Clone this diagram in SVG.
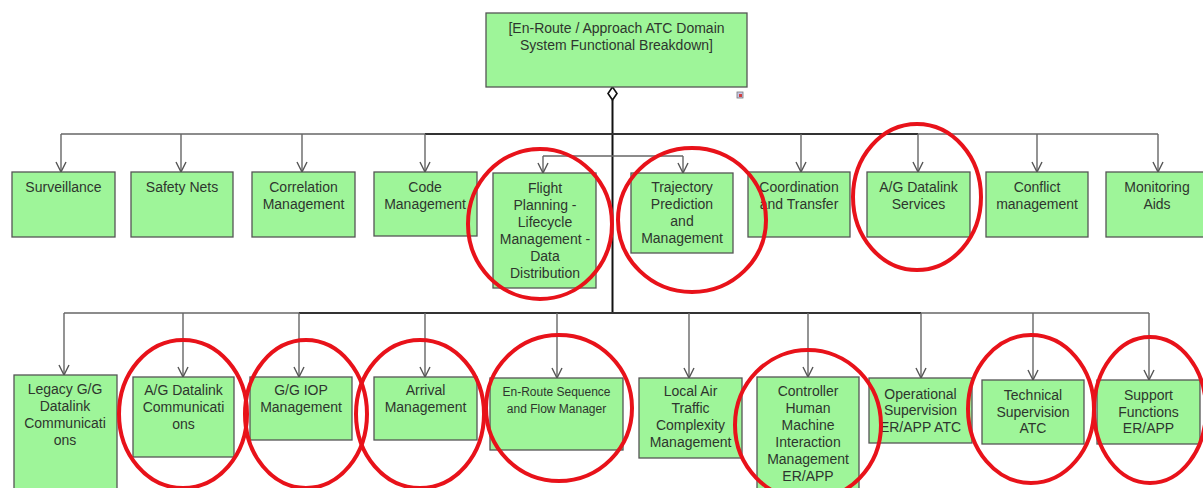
<svg xmlns="http://www.w3.org/2000/svg" width="1203" height="488" viewBox="0 0 1203 488">
<defs>
<marker id="arr" viewBox="0 0 12 12" refX="11" refY="6" markerWidth="12" markerHeight="12" markerUnits="userSpaceOnUse" orient="auto">
<path d="M1,1 L11,6 L1,11" fill="none" stroke="#555" stroke-width="1.4"/>
</marker>
<style>
.box{fill:#9ef599;stroke:#555;stroke-width:1.3}
.t{font-family:"Liberation Sans",Arial,sans-serif;font-size:14px;fill:#2e352e;text-anchor:middle}
.s{font-size:12px}
.c{fill:none;stroke:#666;stroke-width:1.4}
.d{fill:none;stroke:#333;stroke-width:1.8}
.a{fill:none;stroke:#666;stroke-width:1.4;marker-end:url(#arr)}
.m{fill:none;stroke:#111;stroke-width:2}
.hl{fill:none;stroke:#e8121a;stroke-width:4}
</style>
</defs>
<rect width="1203" height="488" fill="#fff"/>

<g id="connectors">
<line class="m" x1="612.5" y1="100" x2="612.5" y2="313"/>
<polygon points="612.5,87 617,93.5 612.5,100 608,93.5" fill="#fff" stroke="#111" stroke-width="1.6"/>
<line class="c" x1="61" y1="134" x2="1158" y2="134"/>
<line class="d" x1="425" y1="134" x2="918" y2="134"/>
<line class="c" x1="543" y1="156" x2="683" y2="156"/>
<path class="a" d="M61,134 V172"/>
<path class="a" d="M181,134 V172"/>
<path class="a" d="M302,134 V172"/>
<path class="a" d="M425,134 V172"/>
<path class="a" d="M543,156 V173"/>
<path class="a" d="M683,156 V173"/>
<path class="a" d="M801,134 V172"/>
<path class="a" d="M918,134 V172"/>
<path class="a" d="M1037,134 V172"/>
<path class="a" d="M1158,134 V172"/>
<line class="c" x1="64" y1="313" x2="1149" y2="313"/>
<line class="d" x1="299" y1="313" x2="921" y2="313"/>
<path class="a" d="M64,313 V375"/>
<path class="a" d="M183,313 V377"/>
<path class="a" d="M299,313 V377"/>
<path class="a" d="M425,313 V377"/>
<path class="a" d="M557,313 V378"/>
<path class="a" d="M689,313 V378"/>
<path class="a" d="M808,313 V377"/>
<path class="a" d="M921,313 V378"/>
<path class="a" d="M1033,313 V380"/>
<path class="a" d="M1149,313 V380"/>
</g>

<g id="root">
<rect class="box" x="486" y="13" width="261" height="74"/>
<text class="t" x="616.5" y="33">[En-Route / Approach ATC Domain</text>
<text class="t" x="616.5" y="50">System Functional Breakdown]</text>
<rect x="737" y="92" width="6" height="6" fill="#c8c8e8" stroke="#777" stroke-width="0.8"/>
<rect x="739" y="94" width="3" height="3" fill="#d04040"/>
</g>

<g id="n-surveillance"><rect class="box" x="12" y="172" width="103" height="65"/><text class="t" x="63.5" y="192">Surveillance</text></g>
<g id="n-safety"><rect class="box" x="131" y="172" width="102" height="65"/><text class="t" x="182" y="192">Safety Nets</text></g>
<g id="n-correlation"><rect class="box" x="252" y="172" width="103" height="65"/><text class="t" x="303.5" y="192">Correlation</text><text class="t" x="303.5" y="209">Management</text></g>
<g id="n-code"><rect class="box" x="374" y="172" width="103" height="64"/><text class="t" x="425" y="192">Code</text><text class="t" x="425" y="209">Management</text></g>
<g id="n-flight"><rect class="box" x="493" y="173" width="103" height="115"/>
<text class="t" x="545" y="193">Flight</text><text class="t" x="545" y="210">Planning -</text><text class="t" x="545" y="227">Lifecycle</text><text class="t" x="545" y="244">Management -</text><text class="t" x="545" y="261">Data</text><text class="t" x="545" y="278">Distribution</text></g>
<g id="n-trajectory"><rect class="box" x="631" y="173" width="102" height="80"/>
<text class="t" x="682" y="192">Trajectory</text><text class="t" x="682" y="209">Prediction</text><text class="t" x="682" y="226">and</text><text class="t" x="682" y="243">Management</text></g>
<g id="n-coordination"><rect class="box" x="748" y="172" width="102" height="65"/><text class="t" x="799" y="192">Coordination</text><text class="t" x="799" y="209">and Transfer</text></g>
<g id="n-agservices"><rect class="box" x="867" y="172" width="103" height="65"/><text class="t" x="918.5" y="192">A/G Datalink</text><text class="t" x="918.5" y="209">Services</text></g>
<g id="n-conflict"><rect class="box" x="986" y="172" width="102" height="65"/><text class="t" x="1037" y="192">Conflict</text><text class="t" x="1037" y="209">management</text></g>
<g id="n-monitoring"><rect class="box" x="1106" y="172" width="103" height="65"/><text class="t" x="1157" y="192">Monitoring</text><text class="t" x="1157" y="209">Aids</text></g>

<g id="n-legacy"><rect class="box" x="14" y="375" width="103" height="125"/>
<text class="t" x="65" y="394">Legacy G/G</text><text class="t" x="65" y="411">Datalink</text><text class="t" x="65" y="428">Communicati</text><text class="t" x="65" y="445">ons</text></g>
<g id="n-agcomm"><rect class="box" x="133" y="377" width="101" height="80"/>
<text class="t" x="183.5" y="395">A/G Datalink</text><text class="t" x="183.5" y="412">Communicati</text><text class="t" x="183.5" y="429">ons</text></g>
<g id="n-ggiop"><rect class="box" x="250" y="377" width="102" height="63"/>
<text class="t" x="301" y="395">G/G IOP</text><text class="t" x="301" y="412">Management</text></g>
<g id="n-arrival"><rect class="box" x="374" y="377" width="103" height="63"/>
<text class="t" x="425.5" y="395">Arrival</text><text class="t" x="425.5" y="412">Management</text></g>
<g id="n-enroute"><rect class="box" x="490" y="378" width="133" height="72"/>
<text class="t s" x="556.5" y="396">En-Route Sequence</text><text class="t s" x="556.5" y="413">and Flow Manager</text></g>
<g id="n-localair"><rect class="box" x="639" y="378" width="103" height="80"/>
<text class="t" x="690.5" y="396">Local Air</text><text class="t" x="690.5" y="413">Traffic</text><text class="t" x="690.5" y="430">Complexity</text><text class="t" x="690.5" y="447">Management</text></g>
<g id="n-hmi"><rect class="box" x="757" y="377" width="102" height="125"/>
<text class="t" x="808" y="396">Controller</text><text class="t" x="808" y="413">Human</text><text class="t" x="808" y="430">Machine</text><text class="t" x="808" y="447">Interaction</text><text class="t" x="808" y="464">Management</text><text class="t" x="808" y="481">ER/APP</text></g>
<g id="n-opsup"><rect class="box" x="869" y="378" width="103" height="65"/>
<text class="t" x="920.5" y="399">Operational</text><text class="t" x="920.5" y="415">Supervision</text><text class="t" x="920.5" y="432">ER/APP ATC</text></g>
<g id="n-techsup"><rect class="box" x="982" y="380" width="102" height="64"/>
<text class="t" x="1033" y="400">Technical</text><text class="t" x="1033" y="417">Supervision</text><text class="t" x="1033" y="433">ATC</text></g>
<g id="n-support"><rect class="box" x="1097" y="380" width="103" height="64"/>
<text class="t" x="1148.5" y="400">Support</text><text class="t" x="1148.5" y="417">Functions</text><text class="t" x="1148.5" y="433">ER/APP</text></g>

<g id="highlights">
<ellipse class="hl" cx="540" cy="224" rx="72" ry="75"/>
<ellipse class="hl" cx="692" cy="220" rx="74" ry="72"/>
<ellipse class="hl" cx="917" cy="197" rx="64" ry="73"/>
<ellipse class="hl" cx="183" cy="414" rx="64" ry="74"/>
<ellipse class="hl" cx="306" cy="414" rx="61" ry="74"/>
<ellipse class="hl" cx="420" cy="414" rx="64" ry="74"/>
<ellipse class="hl" cx="559" cy="408" rx="73" ry="73"/>
<ellipse class="hl" cx="808" cy="425" rx="73" ry="75"/>
<ellipse class="hl" cx="1031" cy="409" rx="63" ry="74"/>
<ellipse class="hl" cx="1150" cy="410" rx="56" ry="73"/>
</g>
</svg>
